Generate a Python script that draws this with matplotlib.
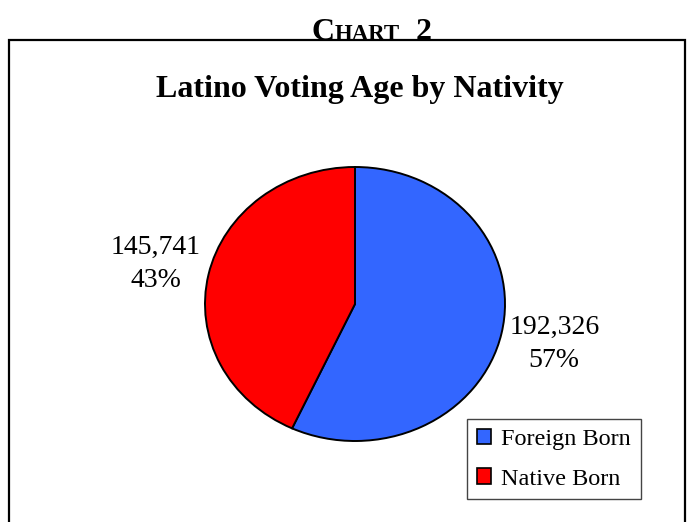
import matplotlib.pyplot as plt
from matplotlib.patches import Rectangle
from matplotlib.offsetbox import TextArea, HPacker, AnnotationBbox

plt.rcParams['font.family'] = ['Liberation Serif', 'DejaVu Serif']

# data
categories = ['Foreign Born', 'Native Born']
counts = [192326, 145741]
percents = [57, 43]
colors = ['#3366FF', '#FF0000']

W, H = 687, 522
fig = plt.figure(figsize=(W / 100, H / 100), dpi=100)

# outer frame (bottom edge runs off the page)
fig.patches.append(Rectangle((9 / W, -0.05), 676 / W, 1.05 - 40 / H,
                             transform=fig.transFigure, fill=False,
                             edgecolor='black', linewidth=1.6, clip_on=False))

# "CHART 2" heading in small caps
parts = [TextArea('C', textprops=dict(fontsize=23, fontweight='bold')),
         TextArea('HART', textprops=dict(fontsize=16.5, fontweight='bold')),
         TextArea('  2', textprops=dict(fontsize=23, fontweight='bold'))]
head = HPacker(children=parts, align='baseline', pad=0, sep=0)
fig.add_artist(AnnotationBbox(head, (372 / W, 1 - 32 / H), xycoords='figure fraction',
                              frameon=False, box_alignment=(0.5, 0.5)))

fig.text(360 / W, 1 - 90 / H, 'Latino Voting Age by Nativity', ha='center', va='center',
         fontsize=23, fontweight='bold')

# pie axes, stretched to an ellipse
ax = fig.add_axes([205 / W, 1 - 441 / H, 300 / W, 274 / H])
labels = [f'{c:,}\n{p}%' for c, p in zip(counts, percents)]
wedges, texts = ax.pie(counts, colors=colors, startangle=90, counterclock=False,
                       labels=labels, labeldistance=1.36,
                       wedgeprops=dict(edgecolor='black', linewidth=1.4),
                       textprops=dict(fontsize=20, linespacing=1.45))
for t in texts:
    t.set_ha('center')
    t.set_va('center')
ax.set_aspect('auto')
ax.set_xlim(-1.0, 1.0)
ax.set_ylim(-1.0, 1.0)

leg = fig.legend(wedges, categories, loc='upper left',
                 bbox_to_anchor=(467 / W, 1 - 419 / H), fontsize=17.5,
                 frameon=True, fancybox=False, edgecolor='#444444', framealpha=1,
                 handlelength=0.6, handleheight=0.6, handletextpad=0.4,
                 labelspacing=0.75, borderpad=0.4, borderaxespad=0)
leg.get_frame().set_linewidth(1.0)
for h in leg.legend_handles:
    h.set_linewidth(1.2)

fig.savefig('out.png', dpi=100)
